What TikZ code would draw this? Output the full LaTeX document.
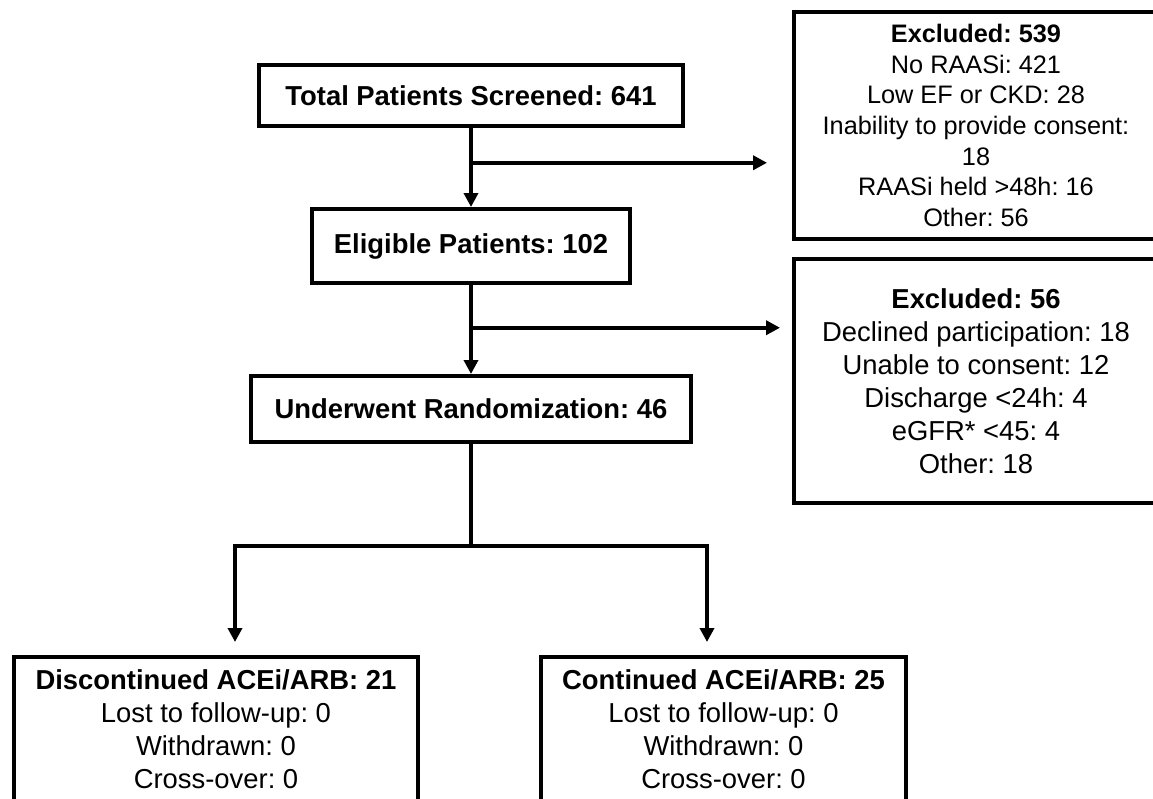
\documentclass[tikz,border=0pt]{standalone}
\usepackage{fontspec}
\setmainfont{Liberation Sans}
\frenchspacing
\usetikzlibrary{arrows.meta,calc,positioning}

\begin{document}
\begin{tikzpicture}[x=0.02cm,y=-0.02cm,line width=0.08cm,
  flowbox/.style={draw,align=center,font=\fontsize{15.6pt}{18.8pt}\selectfont\bfseries},
  sidebox/.style={draw,align=center,font=\fontsize{15.6pt}{18.8pt}\selectfont},
  arr/.style={-{Triangle[length=0.28cm,width=0.28cm]},line width=0.075cm}]

\useasboundingbox (0,0) rectangle (1153,798);
\clip (0,0) rectangle (1153,798);

% main column
\node[flowbox,minimum width=8.5cm,minimum height=1.22cm] (total) at (471,95.5) {Total Patients Screened: 641};
\node[flowbox,minimum width=6.38cm,minimum height=1.48cm] (eligible) at (471,246) {Eligible Patients: 102};
\node[flowbox,minimum width=8.82cm,minimum height=1.32cm] (random) at (471,409) {Underwent Randomization: 46};

% exclusions
\node[sidebox,font=\fontsize{14.4pt}{17.4pt}\selectfont,minimum width=7.28cm,minimum height=4.54cm] (excl1) at (976,125.5)
 {\textbf{Excluded: 539}\\No RAASi: 421\\Low EF or CKD: 28\\Inability to provide consent:\\18\\RAASi held >48h: 16\\Other: 56};
\node[sidebox,minimum width=7.28cm,minimum height=4.88cm] (excl2) at (976,381)
 {\textbf{Excluded: 56}\\Declined participation: 18\\Unable to consent: 12\\Discharge <24h: 4\\eGFR* <45: 4\\Other: 18};

% arms
\node[sidebox,anchor=north,minimum width=8.08cm,inner ysep=0.26cm,text depth=3cm] (disc) at (216,655)
 {\textbf{Discontinued ACEi/ARB: 21}\\Lost to follow-up: 0\\Withdrawn: 0\\Cross-over: 0};
\node[sidebox,anchor=north,minimum width=7.3cm,inner ysep=0.26cm,text depth=3cm] (cont) at (723.5,655)
 {\textbf{Continued ACEi/ARB: 25}\\Lost to follow-up: 0\\Withdrawn: 0\\Cross-over: 0};

\coordinate (b1) at ($(total.south)!0.44!(eligible.north)$);
\coordinate (b2) at ($(eligible.south)!0.48!(random.north)$);
\coordinate (split) at ($(random.south)+(0,102)$);
\coordinate (sl) at (235,546);
\coordinate (sr) at (707,546);

\draw[arr] (total) -- (eligible);
\draw[arr,shorten >=0.5cm] (b1) -- (b1 -| excl1.west);
\draw[arr] (eligible) -- (random);
\draw[arr,shorten >=0.24cm] (b2) -- (b2 -| excl2.west);
\draw[line width=0.075cm] (random) -- (split);
\draw[arr,shorten >=0.26cm] (split) -- (sl) -- (sl |- disc.north);
\draw[arr,shorten >=0.26cm] (split) -- (sr) -- (sr |- cont.north);

\end{tikzpicture}
\end{document}
